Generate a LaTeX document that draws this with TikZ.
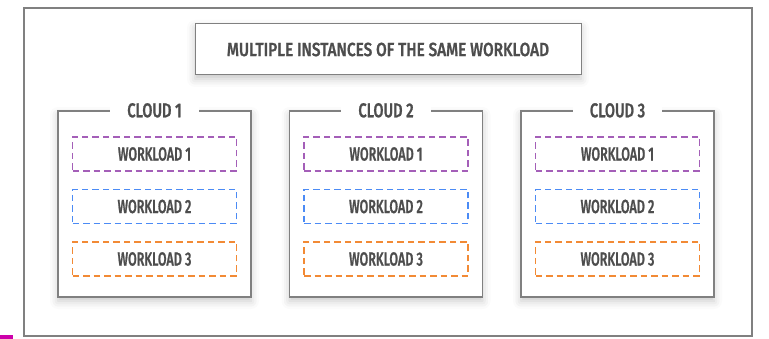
\documentclass[tikz,border=0pt]{standalone}
\usepackage{fontspec}
\setmainfont{Fira Sans Medium}[FakeStretch=0.8]
\newfontfamily\titlefont{Fira Sans Medium}[FakeStretch=0.81, FakeBold=1]
\newfontfamily\cloudfont{Fira Sans Medium}[FakeStretch=0.73, FakeBold=1]
\newfontfamily\wlfont{Fira Sans Medium}[FakeStretch=0.66, FakeBold=1]
\usetikzlibrary{shadows.blur}
\definecolor{wlpurple}{HTML}{A45FB8}
\definecolor{wlblue}{HTML}{4B8BF5}
\definecolor{wlorange}{HTML}{F28A35}
\definecolor{textgray}{HTML}{4D4D4D}
\definecolor{framegray}{HTML}{808080}
\definecolor{markmagenta}{HTML}{CC00AA}
\tikzset{
  softshadow/.style={blur shadow={shadow xshift=0pt, shadow yshift=-4pt,
      shadow blur radius=8pt, shadow opacity=22}},
  titlebox/.style={draw=framegray, line width=1pt, fill=white, softshadow,
      minimum width=386pt, minimum height=51pt, text=textgray,
      font=\titlefont\fontsize{19}{21}\selectfont},
  cloudbox/.style={draw=framegray, line width=1.3pt, fill=white, softshadow,
      minimum width=193pt, minimum height=186pt},
  cloudlabel/.style={fill=white, inner xsep=17pt, inner ysep=2pt, text=textgray,
      font=\cloudfont\fontsize{20}{22}\selectfont},
  workload/.style={draw=#1, dash pattern=on 6.5pt off 4pt, line width=1.9pt,
      minimum width=164pt, minimum height=34pt, text=textgray,
      font=\wlfont\fontsize{19}{21}\selectfont},
}

\begin{document}
\begin{tikzpicture}[x=1pt,y=-1pt]
    \useasboundingbox (0,0) rectangle (769,339);

    % outer frame
    \draw[framegray, line width=1.5pt] (24,8) rectangle (752,336);
    \fill[markmagenta] (0,335) rectangle (13,339);

    % title
    \node[titlebox] (title) at (388,49.5) {MULTIPLE INSTANCES OF THE SAME WORKLOAD};

    % clouds
    \foreach \i/\x in {1/154.5, 2/386, 3/617.5} {
        \node[cloudbox] (cloud\i) at (\x,204) {};
        \node[cloudlabel] (label\i) at (cloud\i.north) {CLOUD \i};

        % workloads
        \foreach \j/\c/\y in {1/wlpurple/154, 2/wlblue/206.5, 3/wlorange/259} {
            \node[workload=\c] (wl\i\j) at (\x,\y) {WORKLOAD \j};
        }
    }
\end{tikzpicture}
\end{document}
